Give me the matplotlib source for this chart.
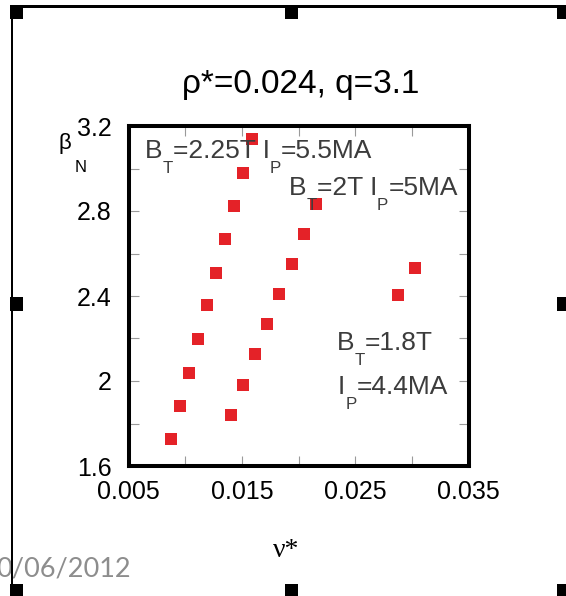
import matplotlib
matplotlib.use("Agg")
import matplotlib.pyplot as plt
from matplotlib.patches import Rectangle

plt.rcParams['font.family'] = ['Liberation Sans', 'DejaVu Sans']

# beta_N against nu* for three toroidal field / plasma current scans
nu_225 = [0.00872, 0.00952, 0.01031, 0.01111, 0.0119, 0.01269, 0.01349, 0.01428, 0.01508, 0.01592]
beta_225 = [1.726, 1.882, 2.039, 2.196, 2.358, 2.510, 2.667, 2.824, 2.980, 3.137]

nu_20 = [0.01404, 0.01508, 0.01616, 0.01725, 0.01831, 0.0194, 0.02049, 0.02155]
beta_20 = [1.840, 1.981, 2.126, 2.267, 2.409, 2.549, 2.692, 2.833]

nu_18 = [0.02875, 0.03028]
beta_18 = [2.405, 2.530]

xticks = [0.005, 0.010, 0.015, 0.020, 0.025, 0.030, 0.035]
xticklabels = ['0.005', '', '0.015', '', '0.025', '', '0.035']
yticks = [1.6, 1.8, 2.0, 2.2, 2.4, 2.6, 2.8, 3.0, 3.2]
yticklabels = ['1.6', '', '2', '', '2.4', '', '2.8', '', '3.2']

W, H = 566, 596
fig = plt.figure(figsize=(W / 100, H / 100), dpi=100)
renderer = fig.canvas.get_renderer()

ax = fig.add_axes([128.5 / W, 1 - 466 / H, 340 / W, 340 / H])
red = '#e42228'
for xs, ys in [(nu_225, beta_225), (nu_20, beta_20), (nu_18, beta_18)]:
    ax.plot(xs, ys, ls='none', marker='s', ms=9, mew=0, color=red)

ax.set_xlim(0.005, 0.035)
ax.set_ylim(1.6, 3.2)
ax.set_xticks(xticks)
ax.set_xticklabels(xticklabels)
ax.set_yticks(yticks)
ax.set_yticklabels(yticklabels)
ax.tick_params(direction='in', length=7, width=0.8, color='#9a9a9a',
               top=True, right=True, labelsize=18)
ax.tick_params(axis='x', pad=10)
ax.tick_params(axis='y', pad=12)
for sp in ax.spines.values():
    sp.set_linewidth(2.9)
    sp.set_color('black')


def px_text(x, y, s, **kw):
    # x, y in pixels from the top-left corner
    return fig.text(x / W, 1 - y / H, s, **kw)


def runs_text(x, y, runs, size=19, color='#3c3c3c'):
    # draw text with dropped subscripts, piece by piece along the baseline
    for s, sub in runs:
        fs = size * 0.64 if sub else size
        yy = y + (size * 0.78 if sub else 0)
        t = px_text(x, yy, s, fontsize=fs, color=color, va='baseline', ha='left')
        x += t.get_window_extent(renderer).width


runs_text(145, 158, [('B', False), ('T', True), ('=2.25T I', False), ('P', True), ('=5.5MA', False)])
runs_text(289, 195, [('B', False), ('T', True), ('=2T I', False), ('P', True), ('=5MA', False)])
runs_text(337, 350, [('B', False), ('T', True), ('=1.8T', False)])
runs_text(338, 394, [('I', False), ('P', True), ('=4.4MA', False)])

px_text(301, 93, 'ρ*=0.024, q=3.1', fontsize=24, ha='center', va='baseline')
px_text(59, 149, 'β', fontsize=16, va='baseline')
px_text(75, 172, 'N', fontsize=12, va='baseline')
px_text(273, 557, 'ν*', fontsize=20, family=['Liberation Serif', 'DejaVu Serif'], va='baseline')
px_text(-4, 577, '0/06/2012', fontsize=19.5, color='#8d8d8d',
        family=['Lato', 'DejaVu Sans'], va='baseline')

# slide frame: top and left edges plus selection handles
frame = [(17, 5, 540, 3), (11, 5, 2, 585)]
handles = [(10, 5), (285, 5), (557, 5), (10, 297), (557, 297), (10, 584), (285, 584), (557, 584)]
for x, y, w, h in frame + [(hx, hy, 13, 14) for hx, hy in handles]:
    fig.add_artist(Rectangle((x / W, 1 - (y + h) / H), w / W, h / H,
                             transform=fig.transFigure, color='black', lw=0, zorder=5))

fig.savefig('out.png', dpi=100)
